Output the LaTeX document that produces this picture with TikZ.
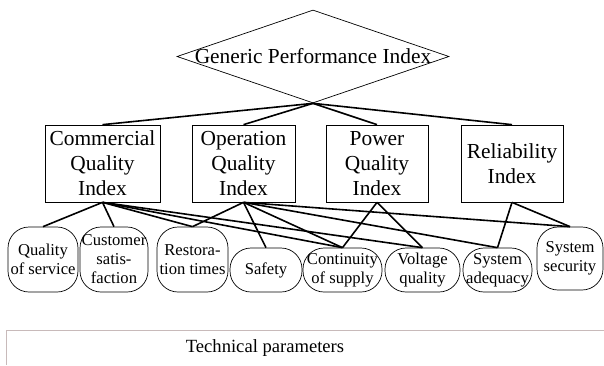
\documentclass[tikz,border=0pt]{standalone}
\usepackage{fontspec}
\setmainfont{Liberation Serif}
\usetikzlibrary{shapes.geometric}
\definecolor{techgray}{RGB}{200,186,186}
\tikzset{
	idx/.style={draw,line width=0.7pt,minimum height=77pt,inner sep=0pt,align=center,font=\fontsize{21.4}{25}\selectfont},
	par/.style={draw,line width=0.7pt,rounded corners=21pt,inner sep=0pt,align=center,font=\fontsize{16.6}{19}\selectfont},
	link/.style={line width=1.6pt}
}
\begin{document}
\begin{tikzpicture}[x=1pt,y=-1pt]
			\useasboundingbox (0,0) rectangle (604,365);
			\node[diamond,draw,line width=0.7pt,inner sep=0pt,minimum width=272pt,minimum height=93pt,label={[font=\fontsize{21.4}{25}\selectfont]center:Generic Performance Index}] (gpi) at (313,56.5) {};
			
			\node[idx,minimum width=115pt] (com) at (102.5,163.5) {Commercial\\Quality\\Index};
			\node[idx,minimum width=103pt] (ope) at (243.5,163.5) {Operation\\Quality\\Index};
			\node[idx,minimum width=102pt] (pow) at (377,163.5) {Power\\Quality\\Index};
			\node[idx,minimum width=102pt] (rel) at (512,163.5) {Reliability\\Index};
			
			\node[par,minimum width=70pt,minimum height=65pt] (qos) at (43,259.5) {Quality\\of service};
			\node[par,minimum width=68pt,minimum height=65pt] (cus) at (114,259.5) {Customer\\satis-\\faction};
			\node[par,minimum width=71pt,minimum height=65pt] (res) at (192.5,259.5) {Restora-\\tion times};
			\node[par,minimum width=72pt,minimum height=44pt] (saf) at (266,270) {Safety};
			\node[par,minimum width=79pt,minimum height=44pt] (con) at (342.5,270) {Continuity\\of supply};
			\node[par,minimum width=75pt,minimum height=44pt] (vol) at (422.5,270) {Voltage\\quality};
			\node[par,minimum width=69pt,minimum height=44pt] (ade) at (497.5,270) {System\\adequacy};
			\node[par,minimum width=66pt,minimum height=63pt] (sec) at (570,258.5) {System\\security};
			
			\foreach \i in {com,ope,pow,rel}{
				\draw [link] (gpi.south)--(\i.north);
			}
			\foreach \i/\j in {com/qos,com/cus,com/res,com/con,com/vol,ope/res,ope/saf,ope/con,ope/ade,ope/sec,pow/con,pow/vol,rel/ade,rel/sec}{
				\draw [link] (\i.south)--(\j.north);
			}
			
			\draw [techgray,line width=1pt] (604,330)--(6,330)--(6,365);
			\node[font=\fontsize{18.6}{22}\selectfont] (tech) at (265,348) {Technical parameters};
\end{tikzpicture}
\end{document}
